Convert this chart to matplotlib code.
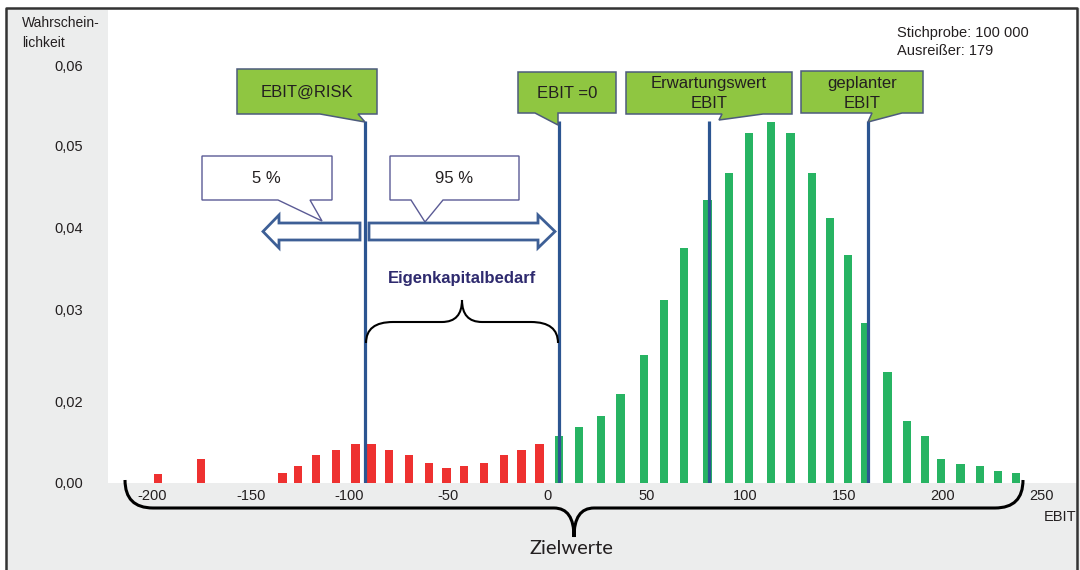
import numpy as np
import matplotlib.pyplot as plt
import matplotlib.patches as patches
from matplotlib.path import Path

plt.rcParams['font.family'] = ['Liberation Sans', 'DejaVu Sans']

# ===============================
# Daten
# ===============================
red_x = [-197, -175, -134, -126, -117, -107, -97, -89, -80, -70, -60, -51, -42, -32, -22, -13, -4]
red_p = [0.0022, 0.0059, 0.0024, 0.0041, 0.0068, 0.0080, 0.0095, 0.0095, 0.0080,
         0.0068, 0.0049, 0.0037, 0.0041, 0.0049, 0.0068, 0.0080, 0.0095]

green_x = [6, 16, 27, 37, 49, 59, 69, 81, 92, 102, 113, 123, 134, 143, 152, 161,
           172, 182, 191, 199, 209, 219, 228, 237]
green_p = [0.0115, 0.0137, 0.0163, 0.0208, 0.0250, 0.0311, 0.0374, 0.0433, 0.0466,
           0.0515, 0.0529, 0.0515, 0.0466, 0.0411, 0.0366, 0.0285, 0.0232, 0.0151,
           0.0115, 0.0059, 0.0046, 0.0041, 0.0029, 0.0024]

marker_x = [-92, 6, 82, 162]
marker_top = 0.053
marker_labels = ['EBIT@RISK', 'EBIT =0', 'Erwartungswert\nEBIT', 'geplanter\nEBIT']

xtick_vals = [-200, -150, -100, -50, 0, 50, 100, 150, 200, 250]
ytick_vals = [0.0, 0.02, 0.03, 0.04, 0.05, 0.06]
ytick_labels = ['0,00', '0,02', '0,03', '0,04', '0,05', '0,06']

# ===============================
# Layout
# ===============================
W, H = 1080, 570
BG = '#ECEDED'
TXT = '#231F20'
CALLOUT = '#8FC641'
BLUE = '#2C5591'

# y-Achse der Vorlage ist nicht gleichmaessig geteilt
y_anchor_v = [0.0, 0.02, 0.03, 0.04, 0.05, 0.06, 0.08]
y_anchor_h = [0, 82, 174, 256, 338, 418, 578]


def y_fwd(v):
    return np.interp(v, y_anchor_v, y_anchor_h)


def y_inv(h):
    return np.interp(h, y_anchor_h, y_anchor_v)


def P(x, y):
    return (x / W, 1 - y / H)


fig = plt.figure(figsize=(W / 100, H / 100), dpi=100)
fig.patch.set_facecolor('white')

# grauer Rahmenhintergrund
fig.add_artist(patches.Rectangle(P(6, 570), 1074 / W, 562 / H, transform=fig.transFigure,
                                 facecolor=BG, edgecolor='none', zorder=-2))

ax = fig.add_axes([108 / W, 1 - 483 / H, (1077 - 108) / W, (483 - 10) / H])
ax.set_facecolor('white')
ax.set_yscale('function', functions=(y_fwd, y_inv))
ax.set_xlim(-222.2, 267.9)
ax.set_ylim(0, 0.0669)

ax.bar(red_x, red_p, width=4.2, color='#EE3130', zorder=2)
ax.bar(green_x, green_p, width=4.2, color='#27B463', zorder=2)
ax.vlines(marker_x, 0, marker_top, color=BLUE, lw=2.3, zorder=3)

ax.set_xticks(xtick_vals, [str(v) for v in xtick_vals])
ax.set_yticks(ytick_vals, ytick_labels)
ax.yaxis.set_minor_locator(plt.NullLocator())
ax.tick_params(axis='both', length=0, labelsize=10.5, labelcolor=TXT)
ax.tick_params(axis='y', pad=18)
ax.tick_params(axis='x', pad=4)
for s in ax.spines.values():
    s.set_visible(False)

# aeusserer Rahmen
frame = [P(6, 600), P(6, 8), P(1077, 8), P(1077, 600)]
fig.add_artist(plt.Line2D([p[0] for p in frame], [p[1] for p in frame], transform=fig.transFigure,
                          color='#333333', lw=1.8, zorder=5))

fig.text(*P(22, 33), 'Wahrschein-\nlichkeit', fontsize=10, color=TXT, ha='left', va='center',
         linespacing=1.55)
fig.text(*P(897, 42), 'Stichprobe: 100 000\nAusreißer: 179', fontsize=10.5, color=TXT,
         ha='left', va='center', linespacing=1.45)
fig.text(*P(1060, 517), 'EBIT', fontsize=10.5, color=TXT, ha='center', va='center')


def poly(pts, **kw):
    fig.add_artist(patches.Polygon([P(x, y) for x, y in pts], closed=True,
                                   transform=fig.transFigure, **kw))


# gruene Sprechblasen
callouts = [
    [(237, 69), (377, 69), (377, 114), (358, 114), (365, 122), (320, 114), (237, 114)],
    [(518, 72), (616, 72), (616, 113), (558, 113), (558, 125), (535, 113), (518, 113)],
    [(626, 72), (792, 72), (792, 114), (763, 114), (719, 120), (722, 114), (626, 114)],
    [(801, 71), (923, 71), (923, 113), (902, 113), (868, 122), (872, 113), (801, 113)],
]
label_pos = [(307, 92), (567, 93), (709, 93.5), (862, 93.5)]
for pts, lab, (tx, ty) in zip(callouts, marker_labels, label_pos):
    poly(pts, facecolor=CALLOUT, edgecolor='#4D5B7C', lw=1.1, zorder=4)
    fig.text(*P(tx, ty), lab, fontsize=12, color=TXT, ha='center', va='center',
             linespacing=1.45, zorder=6)

# weisse Sprechblasen 5 % / 95 %
poly([(202, 156), (332, 156), (332, 200), (310, 200), (322, 221), (278, 200), (202, 200)],
     facecolor='white', edgecolor='#5B5B95', lw=1.0, zorder=4)
fig.text(*P(266, 178), '5 %', fontsize=12, color=TXT, ha='center', va='center', zorder=6)
poly([(390, 156), (519, 156), (519, 200), (443, 200), (425, 222), (411, 200), (390, 200)],
     facecolor='white', edgecolor='#5B5B95', lw=1.0, zorder=4)
fig.text(*P(454, 178), '95 %', fontsize=12, color=TXT, ha='center', va='center', zorder=6)

# Blockpfeile
poly([(360, 223), (279, 223), (279, 215), (263, 231.5), (279, 248), (279, 240), (360, 240)],
     facecolor='white', edgecolor='#3D5F96', lw=2.0, zorder=4)
poly([(369, 223), (538, 223), (538, 215), (555, 231.5), (538, 248), (538, 240), (369, 240)],
     facecolor='white', edgecolor='#3D5F96', lw=2.0, zorder=4)

fig.text(*P(462, 278), 'Eigenkapitalbedarf', fontsize=12, fontweight='bold', color='#2E2A6E',
         ha='center', va='center', zorder=6)


def brace(x0, x1, yb, yh, ytip, r, r2, lw):
    xm = (x0 + x1) / 2
    verts = [(x0, yb), (x0, yh), (x0 + r, yh),
             (xm - r2, yh), (xm, yh), (xm, ytip),
             (xm, yh), (xm + r2, yh),
             (x1 - r, yh), (x1, yh), (x1, yb)]
    codes = [Path.MOVETO, Path.CURVE3, Path.CURVE3,
             Path.LINETO, Path.CURVE3, Path.CURVE3,
             Path.CURVE3, Path.CURVE3,
             Path.LINETO, Path.CURVE3, Path.CURVE3]
    path = Path([P(x, y) for x, y in verts], codes)
    fig.add_artist(patches.PathPatch(path, transform=fig.transFigure, facecolor='none',
                                     edgecolor='black', lw=lw, zorder=5))


brace(366, 558, 343, 322, 300, 27, 20, 1.5)
brace(125, 1023, 480, 508, 537, 28, 20, 2.2)

fig.text(*P(571, 548), 'Zielwerte', fontsize=14.5, family=['Lato', 'DejaVu Sans'],
         color=TXT, ha='center', va='center', zorder=6)

fig.savefig('out.png', dpi=100)
